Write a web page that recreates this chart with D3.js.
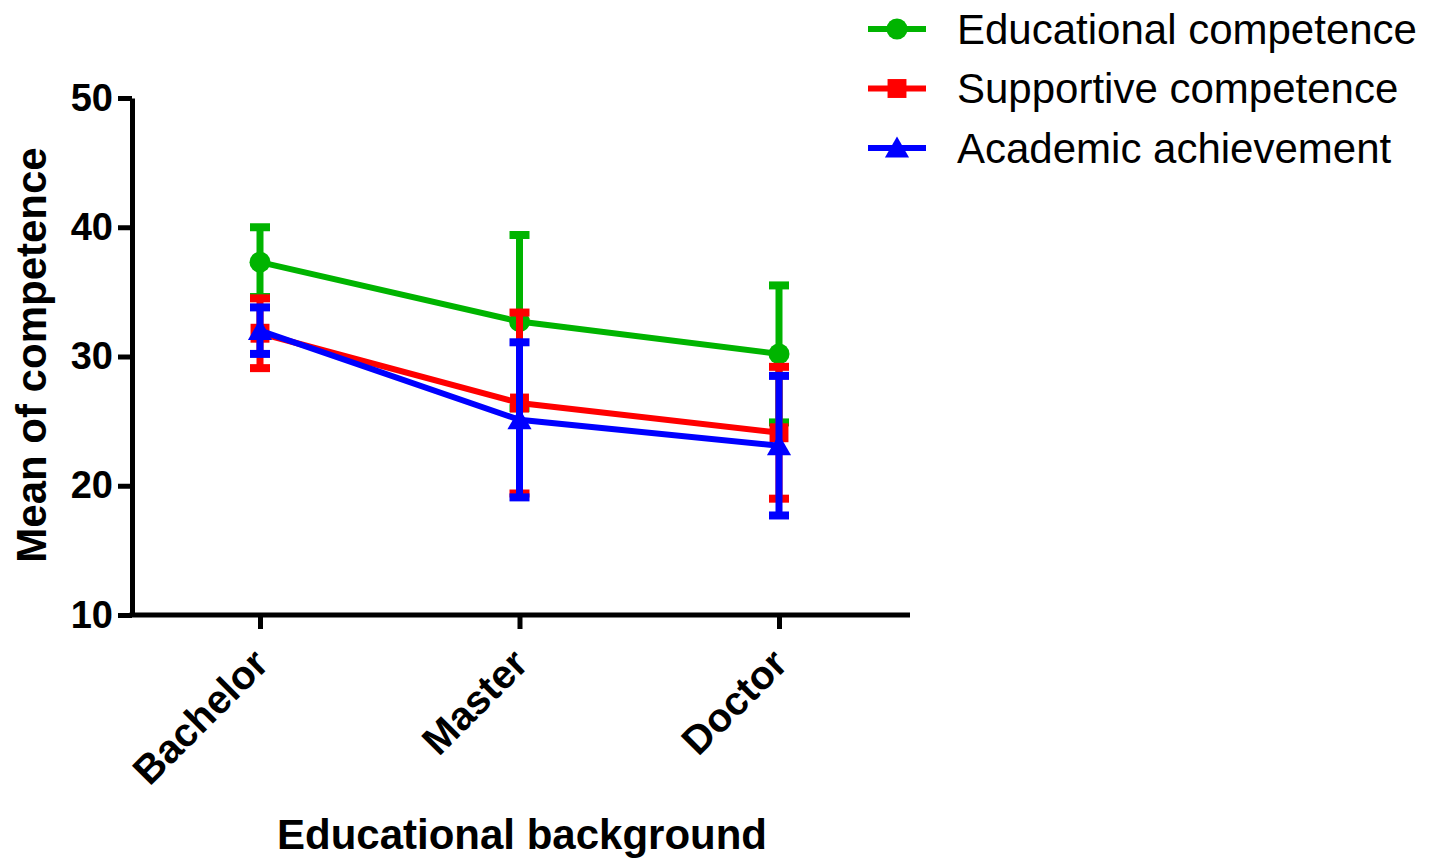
<!DOCTYPE html>
<html><head><meta charset="utf-8">
<script src="https://cdn.jsdelivr.net/npm/d3@7"></script>
<style>body{margin:0;background:#fff}</style>
</head><body>
<svg id="c" width="1439" height="862"></svg>
<script>
const categories = ["Bachelor", "Master", "Doctor"];
const seriesNames = ["Educational competence", "Supportive competence", "Academic achievement"];
const seriesColors = ["#00b400", "#ff0000", "#0000ff"];
const seriesShapes = ["circle", "square", "triangle"];
const eduMean = [37.3, 32.7, 30.2];
const eduSD = [2.7, 6.7, 5.3];
const supMean = [31.8, 26.4, 24.1];
const supSD = [2.7, 7.0, 5.1];
const acaMean = [32.0, 25.1, 23.1];
const acaSD = [1.8, 6.0, 5.4];
const yTicks = [10, 20, 30, 40, 50];

const series = [
  {name: seriesNames[0], color: seriesColors[0], shape: seriesShapes[0], mean: eduMean, sd: eduSD},
  {name: seriesNames[1], color: seriesColors[1], shape: seriesShapes[1], mean: supMean, sd: supSD},
  {name: seriesNames[2], color: seriesColors[2], shape: seriesShapes[2], mean: acaMean, sd: acaSD}
];

const svg = d3.select("#c");
const mLeft = 132, mRight = 910, mTop = 98, mBottom = 615;
const y = d3.scaleLinear().domain([10, 50]).range([mBottom, mTop]);
const x = d3.scalePoint().domain(categories).range([260, 779]);

const font = "'Liberation Sans', Arial, Helvetica, sans-serif";

// axes
const yAxis = svg.append("g").attr("transform", `translate(${mLeft},0)`)
  .call(d3.axisLeft(y).tickValues(yTicks).tickSize(14).tickSizeOuter(0).tickPadding(5));
const xAxis = svg.append("g").attr("transform", `translate(0,${mBottom})`)
  .call(d3.axisBottom(x).tickSize(14).tickSizeOuter(0));
xAxis.select(".domain").remove();
xAxis.append("line").attr("x1", mLeft - 2.5).attr("x2", mRight).attr("y1", 0).attr("y2", 0)
  .attr("stroke", "#000").attr("stroke-width", 5);
yAxis.select(".domain").attr("stroke-width", 5);
svg.selectAll(".tick line").attr("stroke", "#000").attr("stroke-width", 5);
yAxis.selectAll("text").attr("font-family", font).attr("font-size", 38).attr("font-weight", "bold").attr("fill", "#000");
xAxis.selectAll("text").attr("font-family", font).attr("font-size", 40).attr("font-weight", "bold").attr("fill", "#000")
  .attr("text-anchor", "end").attr("x", 0).attr("y", 0).attr("dy", 0)
  .attr("transform", "translate(10,51) rotate(-45)");

// axis titles
svg.append("text").attr("transform", "translate(46,355) rotate(-90)")
  .attr("text-anchor", "middle").attr("font-family", font).attr("font-size", 42).attr("font-weight", "bold")
  .text("Mean of competence");
svg.append("text").attr("x", 522).attr("y", 849)
  .attr("text-anchor", "middle").attr("font-family", font).attr("font-size", 42).attr("font-weight", "bold")
  .text("Educational background");

function marker(g, shape, cx, cy, color, s) {
  if (shape === "circle") g.append("circle").attr("cx", cx).attr("cy", cy).attr("r", s).attr("fill", color);
  else if (shape === "square") g.append("rect").attr("x", cx - s * 0.9).attr("y", cy - s * 0.9).attr("width", s * 1.8).attr("height", s * 1.8).attr("fill", color);
  else g.append("path").attr("d", `M${cx},${cy - s * 1.1}L${cx + s * 1.15},${cy + s * 0.9}L${cx - s * 1.15},${cy + s * 0.9}Z`).attr("fill", color);
}

const line = d3.line().x(d => x(d.c)).y(d => y(d.v));
series.forEach(s => {
  const g = svg.append("g");
  const pts = categories.map((c, i) => ({c, v: s.mean[i], sd: s.sd[i]}));
  pts.forEach(p => {
    const cx = x(p.c);
    g.append("line").attr("x1", cx).attr("x2", cx).attr("y1", y(p.v - p.sd)).attr("y2", y(p.v + p.sd))
      .attr("stroke", s.color).attr("stroke-width", 7);
    [p.v - p.sd, p.v + p.sd].forEach(v => {
      g.append("line").attr("x1", cx - 10).attr("x2", cx + 10).attr("y1", y(v)).attr("y2", y(v))
        .attr("stroke", s.color).attr("stroke-width", 8);
    });
  });
  g.append("path").datum(pts).attr("d", line).attr("fill", "none").attr("stroke", s.color).attr("stroke-width", 6);
  pts.forEach(p => marker(g, s.shape, x(p.c), y(p.v), s.color, 10.5));
});

// legend
series.forEach((s, i) => {
  const ly = 29 + i * 59.5;
  const g = svg.append("g");
  g.append("line").attr("x1", 868).attr("x2", 926).attr("y1", ly).attr("y2", ly).attr("stroke", s.color).attr("stroke-width", 6);
  marker(g, s.shape, 897, ly, s.color, 10.5);
  g.append("text").attr("x", 957).attr("y", ly).attr("dy", "0.35em")
    .attr("font-family", font).attr("font-size", 42).attr("fill", "#000").text(s.name);
});
</script>
</body></html>
